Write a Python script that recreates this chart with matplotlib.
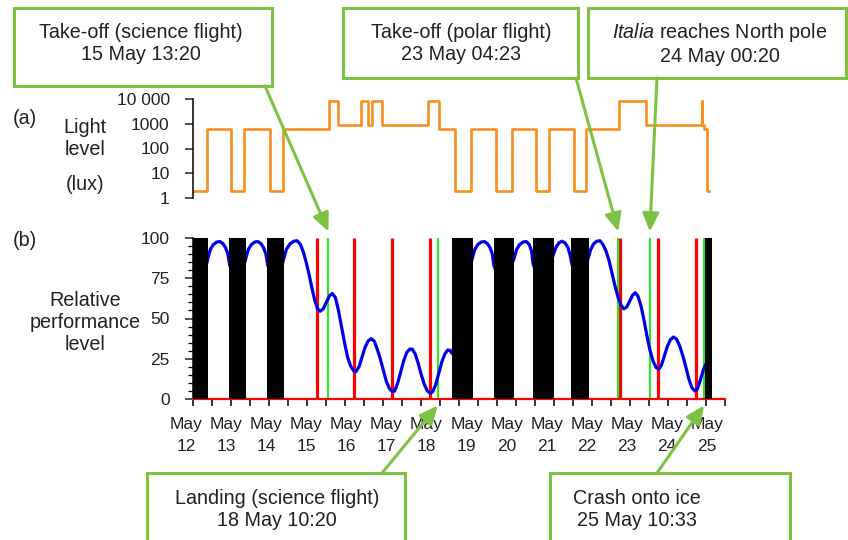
import matplotlib
matplotlib.use("Agg")
import matplotlib.pyplot as plt
import numpy as np
import pandas as pd
from matplotlib.patches import Rectangle
from matplotlib.ticker import LogLocator, NullFormatter, MultipleLocator

plt.rcParams['font.family'] = ['Liberation Sans', 'DejaVu Sans']
plt.rcParams['mathtext.fontset'] = 'custom'
plt.rcParams['mathtext.it'] = 'Liberation Sans:italic'
plt.rcParams['mathtext.rm'] = 'Liberation Sans'

# ------------------------------
# Data (time in days since 12 May 00:00)
# ------------------------------
START = pd.Timestamp('1928-05-12 00:00')
day_labels = ['May\n%d' % d for d in range(12, 26)]

night_start = [0.00, 0.95, 1.95, 6.82, 7.90, 8.94, 9.95, 13.47]
night_end = [0.39, 1.39, 2.39, 7.35, 8.45, 9.48, 10.40, 13.66]

light_t = [0.00, 0.35, 1.00, 1.34, 2.02, 2.35, 3.58, 3.82, 4.41, 4.59, 4.71, 4.97,
           6.17, 6.46, 6.89, 7.31, 7.97, 8.39, 9.03, 9.37, 10.02, 10.34, 11.21, 11.92,
           13.38, 13.395, 13.44, 13.52, 13.58]
light_lux = [2, 630, 2, 630, 2, 630, 8500, 900, 8500, 900, 8500, 900,
             8500, 630, 2, 630, 2, 630, 2, 630, 2, 630, 8500, 900,
             8500, 900, 630, 2, 2]

perf_t = [0.02, 0.20, 0.39, 0.45, 0.53, 0.62, 0.70, 0.78, 0.85, 0.91, 0.96,
          1.17, 1.39, 1.45, 1.53, 1.62, 1.70, 1.78, 1.85, 1.91, 1.96,
          2.17, 2.39, 2.45, 2.55, 2.65, 2.73, 2.82, 2.90, 2.97, 3.05, 3.13, 3.20, 3.27,
          3.34, 3.42, 3.50, 3.58, 3.66, 3.74, 3.82, 3.90, 3.98, 4.06, 4.14, 4.22, 4.28,
          4.36, 4.44, 4.52, 4.60, 4.68, 4.76, 4.84, 4.92, 5.00, 5.08, 5.16, 5.24, 5.30,
          5.38, 5.46, 5.54, 5.62, 5.70, 5.76, 5.84, 5.92, 6.00, 6.08, 6.16, 6.24, 6.30,
          6.38, 6.46, 6.54, 6.62, 6.70, 6.76, 6.82, 7.05,
          7.35, 7.41, 7.49, 7.58, 7.66, 7.74, 7.81, 7.87, 7.91, 8.15,
          8.45, 8.51, 8.59, 8.68, 8.76, 8.84, 8.90, 8.94, 9.20,
          9.48, 9.54, 9.62, 9.70, 9.78, 9.86, 9.92, 9.96, 10.15,
          10.40, 10.46, 10.54, 10.62, 10.70, 10.78, 10.86, 10.94, 11.02, 11.10, 11.18,
          11.26, 11.33, 11.40, 11.48, 11.56, 11.63, 11.70, 11.78, 11.86, 11.94, 12.02,
          12.10, 12.18, 12.25, 12.32, 12.40, 12.48, 12.56, 12.64, 12.72, 12.80, 12.88,
          12.96, 13.04, 13.12, 13.20, 13.26, 13.34, 13.42, 13.47]
perf_v = [75, 68, 88, 93, 96, 97.5, 97.8, 96.5, 94, 90, 83,
          68, 88, 93, 96, 97.5, 97.8, 96.5, 94, 90, 83,
          68, 88, 93, 96.5, 98, 98.3, 96, 91, 85, 77, 68, 61, 56,
          54.5, 56, 60, 64, 65.5, 63, 55, 45, 35, 26, 20.5, 17.5, 17,
          20, 26, 32, 36, 37.5, 36, 31, 25, 18, 11, 6.5, 4.5, 5,
          10, 17, 24, 29, 31, 31, 28, 22, 15, 9, 5, 3.5, 4.5,
          9, 16, 23, 28, 30.5, 30, 28, 60,
          88, 93, 96, 97.5, 97.8, 96.5, 94, 90, 83, 68,
          88, 93, 96, 97.5, 97.8, 96, 92, 84, 68,
          90, 94, 97, 98, 97, 94, 89, 84, 68,
          88, 93, 96.5, 98, 98.3, 96, 92, 86, 78, 70, 63,
          58, 56, 57, 60.5, 64.5, 66, 64, 58, 49, 39, 30,
          23.5, 19.5, 18.5, 21, 27, 33, 37, 38.5, 37, 33, 27,
          20, 12.5, 7, 5, 6, 11.5, 18, 21]

red_t = [3.25, 4.24, 5.24, 6.24, 11.24, 12.23, 13.22]

event_time = ['1928-05-15 13:20', '1928-05-18 10:20', '1928-05-23 04:23',
              '1928-05-24 00:20', '1928-05-25 10:33']
event_text = ['Take-off (science flight)\n15 May 13:20',
              'Landing (science flight)\n18 May 10:20',
              'Take-off (polar flight)\n23 May 04:23',
              '$\\it{Italia}$ reaches North pole\n24 May 00:20',
              'Crash onto ice\n25 May 10:33']
event_day = [(pd.Timestamp(s) - START) / pd.Timedelta(days=1) for s in event_time]

# ------------------------------
# Layout (pixels of the 848x540 image)
# ------------------------------
W, H = 848, 540
X0, X1 = 193.3, 725.3
GREEN = '#7dc243'
ORANGE = '#f98e1f'
TXT = '#222222'
FS_TICK = 12.5
FS = 14.2

fig = plt.figure(figsize=(W / 100, H / 100), dpi=100)
ax_a = fig.add_axes([X0 / W, 1 - 198 / H, (X1 - X0) / W, 99 / H])
ax_b = fig.add_axes([X0 / W, 1 - 399 / H, (X1 - X0) / W, 161 / H])

# ------------------------------
# (a) light level
# ------------------------------
ax_a.step(light_t, light_lux, where='post', color=ORANGE, lw=1.9)
ax_a.set_yscale('log')
ax_a.set_yticks([1, 10, 100, 1000, 10000], ['1', '10', '100', '1000', '10 000'])
ax_a.yaxis.set_minor_locator(LogLocator(base=10, subs=np.arange(2, 10)))
ax_a.yaxis.set_minor_formatter(NullFormatter())
ax_a.tick_params(axis='y', which='major', length=6, width=1.1, pad=11,
                 labelsize=FS_TICK, colors=TXT)
ax_a.tick_params(axis='y', which='minor', length=3, width=0.9)
ax_a.set_xticks([])
ax_a.set_ylim(1, 10000)
ax_a.set_xlim(0, 14)
for s in ['top', 'right', 'bottom']:
    ax_a.spines[s].set_visible(False)
ax_a.spines['left'].set_linewidth(1.1)
ax_a.patch.set_alpha(0)

# ------------------------------
# (b) relative performance
# ------------------------------
ax_b.axhline(0, color='#ff0000', lw=1.6, zorder=2.6, clip_on=False)
for t in red_t:
    ax_b.plot([t, t], [0, 100], color='#ff0000', lw=2.3, zorder=2, solid_capstyle='butt')
for t in event_day:
    ax_b.plot([t, t], [0, 100], color='#22ee22', lw=1.5, zorder=2, solid_capstyle='butt')
ax_b.plot(perf_t, perf_v, color='#0000e8', lw=2.3, zorder=3, solid_joinstyle='round')
for a, b in zip(night_start, night_end):
    ax_b.axvspan(a, b, ymin=0, ymax=1, color='black', lw=0, zorder=4)

ax_b.set_yticks([0, 25, 50, 75, 100])
ax_b.yaxis.set_minor_locator(MultipleLocator(5))
ax_b.tick_params(axis='y', which='major', length=6, width=1.1, pad=11,
                 labelsize=FS_TICK, colors=TXT)
ax_b.tick_params(axis='y', which='minor', length=3.5, width=0.9)

ax_b.xaxis.set_major_locator(MultipleLocator(0.5))
ax_b.xaxis.set_major_formatter(NullFormatter())
ax_b.tick_params(axis='x', which='major', length=5, width=1.1)
ax_b.set_xlim(0, 14)
ax_b.set_ylim(0, 100)

# day labels drift slightly from the tick grid in the original, so place them as text
label_pos = np.linspace(-0.19, 13.52, len(day_labels))
for pos, lab in zip(label_pos, day_labels):
    ax_b.annotate(lab, xy=(pos, 0), xycoords=('data', 'axes fraction'),
                  xytext=(0, -13), textcoords='offset points', ha='center', va='top',
                  fontsize=FS_TICK, color=TXT, linespacing=1.55, annotation_clip=False)

for s in ['top', 'right']:
    ax_b.spines[s].set_visible(False)
ax_b.spines['left'].set_linewidth(1.1)
ax_b.spines['bottom'].set_linewidth(1.1)

# ------------------------------
# Side labels
# ------------------------------
fig.text(25 / W, 1 - 118 / H, '(a)', ha='center', va='center', fontsize=FS, color=TXT)
fig.text(25 / W, 1 - 240 / H, '(b)', ha='center', va='center', fontsize=FS, color=TXT)
fig.text(85 / W, 1 - 138.5 / H, 'Light\nlevel', ha='center', va='center', fontsize=FS,
         color=TXT, linespacing=1.2)
fig.text(85 / W, 1 - 185 / H, '(lux)', ha='center', va='center', fontsize=FS, color=TXT)
fig.text(85 / W, 1 - 322 / H, 'Relative\nperformance\nlevel', ha='center', va='center',
         fontsize=FS, color=TXT, linespacing=1.2)

# ------------------------------
# Event boxes and arrows
# ------------------------------
boxes = [(14, 8, 272, 86), (147, 473, 405, 545), (343, 8, 578, 78),
         (588, 8, 846, 78), (550, 473, 790, 545)]
text_xy = [(141, 43), (277, 509), (461, 43), (720, 43), (637, 509)]
arrow_from = [(265, 86), (382, 473), (576, 78), (657, 78), (657, 473)]
tip_v = [104, -4, 104, 104, -4]

for txt, (x0, y0, x1, y1), (tx, ty), (sx, sy), t, v in zip(event_text, boxes, text_xy,
                                                            arrow_from, event_day, tip_v):
    fig.add_artist(Rectangle((x0 / W, 1 - y1 / H), (x1 - x0) / W, (y1 - y0) / H,
                             transform=fig.transFigure, fill=False, edgecolor=GREEN,
                             lw=2.2, clip_on=False))
    fig.text(tx / W, 1 - ty / H, txt, ha='center', va='center',
             fontsize=FS, color=TXT, linespacing=1.2)
    ax_b.annotate('', xy=(t, v), xycoords='data', xytext=(sx / W, 1 - sy / H),
                  textcoords='figure fraction', annotation_clip=False, zorder=10,
                  arrowprops=dict(arrowstyle='-|>,head_length=0.55,head_width=0.25',
                                  color=GREEN, lw=2.2, mutation_scale=20,
                                  shrinkA=0, shrinkB=0))

fig.savefig('out.png', dpi=100)
